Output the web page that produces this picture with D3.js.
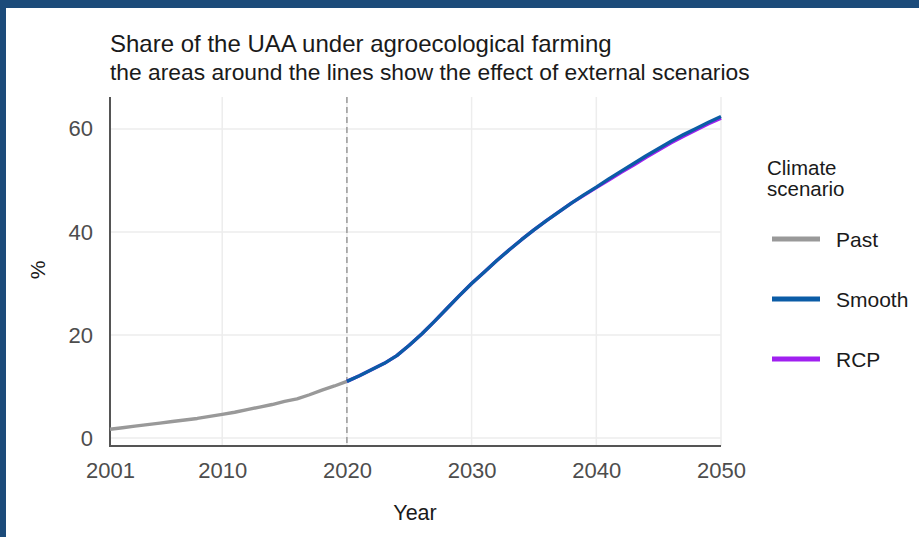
<!DOCTYPE html>
<html>
<head>
<meta charset="utf-8">
<script src="https://cdn.jsdelivr.net/npm/d3@7"></script>
<style>
  html, body { margin: 0; padding: 0; background: #fff; }
  svg { display: block; font-family: "Liberation Sans", Arial, sans-serif; }
</style>
</head>
<body>
<svg id="chart" width="919" height="537"></svg>
<script>
// Observed share (%) of utilised agricultural area, 2001-2020
const pastYears = d3.range(2001, 2021);
const pastValues = [1.7, 2.0, 2.3, 2.6, 2.9, 3.2, 3.5, 3.8, 4.2, 4.6,
                    5.0, 5.5, 6.0, 6.5, 7.1, 7.6, 8.4, 9.3, 10.1, 11.0];

// Projected share under the two climate scenarios, 2020-2050
const futureYears = d3.range(2020, 2051);
const smoothValues = [11.0, 12.1, 13.3, 14.5, 16.0, 18.0, 20.2, 22.6, 25.1, 27.6,
                      30.0, 32.2, 34.4, 36.5, 38.5, 40.4, 42.2, 43.9, 45.6, 47.2,
                      48.7, 50.3, 51.8, 53.3, 54.8, 56.2, 57.6, 58.9, 60.1, 61.3, 62.4];
const rcpValues =    [11.0, 12.1, 13.3, 14.5, 16.0, 18.0, 20.2, 22.6, 25.1, 27.6,
                      30.0, 32.2, 34.4, 36.5, 38.5, 40.4, 42.2, 43.9, 45.6, 47.1,
                      48.6, 50.1, 51.6, 53.0, 54.5, 55.9, 57.3, 58.6, 59.8, 61.0, 62.1];

const xTicks = [2001, 2010, 2020, 2030, 2040, 2050];
const xGrid = [2010, 2020, 2030, 2040, 2050];
const yTicks = [0, 20, 40, 60];
const splitYear = 2020;

const scenarios = ["Past", "Smooth", "RCP"];
const colors = { Past: "#999999", Smooth: "#0b5ca6", RCP: "#a020f0" };

const svg = d3.select("#chart");

// page frame
svg.append("rect").attr("x", 0).attr("y", 0).attr("width", 919).attr("height", 537).attr("fill", "#fff");
svg.append("rect").attr("x", 0).attr("y", 0).attr("width", 919).attr("height", 8).attr("fill", "#1c4b7a");
svg.append("rect").attr("x", 0).attr("y", 0).attr("width", 6).attr("height", 537).attr("fill", "#1c4b7a");

const plotL = 110, plotR = 721, plotT = 97, plotB = 446;

const x = d3.scaleLinear().domain([2001, 2050]).range([plotL, plotR]);
const y = d3.scaleLinear().domain([-1.55, 66.2]).range([plotB, plotT]);

// grid
const grid = svg.append("g");
grid.selectAll("line.h").data(yTicks).join("line")
  .attr("x1", plotL).attr("x2", plotR)
  .attr("y1", d => y(d)).attr("y2", d => y(d))
  .attr("stroke", "#ededed").attr("stroke-width", 1.5);
grid.selectAll("line.v").data(xGrid).join("line")
  .attr("x1", d => x(d)).attr("x2", d => x(d))
  .attr("y1", plotT).attr("y2", plotB)
  .attr("stroke", "#ededed").attr("stroke-width", 1.5);

// axes
const xAxis = svg.append("g").attr("transform", `translate(0,${plotB})`)
  .call(d3.axisBottom(x).tickValues(xTicks).tickFormat(d3.format("d")).tickSize(0).tickPadding(16));
const yAxis = svg.append("g").attr("transform", `translate(${plotL},0)`)
  .call(d3.axisLeft(y).tickValues(yTicks).tickSize(0).tickPadding(17));
[xAxis, yAxis].forEach(a => {
  a.select(".domain").attr("stroke", "#555").attr("stroke-width", 2);
  a.selectAll("text").attr("fill", "#4d4d4d").attr("font-size", 22)
    .attr("font-family", "Liberation Sans, Arial, sans-serif");
});
xAxis.select(".domain").attr("d", `M${plotL - 1},0H${plotR}`);
yAxis.select(".domain").attr("d", `M0,${plotT}V${plotB}`);

// dashed reference at the end of observations
svg.append("line")
  .attr("x1", x(splitYear)).attr("x2", x(splitYear))
  .attr("y1", plotT).attr("y2", plotB - 1)
  .attr("stroke", "#8c8c8c").attr("stroke-width", 1.3)
  .attr("stroke-dasharray", "6,4");

const line = d3.line().x(d => x(d[0])).y(d => y(d[1]));

const series = [
  { key: "Past", pts: pastYears.map((yr, i) => [yr, pastValues[i]]) },
  { key: "RCP", pts: futureYears.map((yr, i) => [yr, rcpValues[i]]) },
  { key: "Smooth", pts: futureYears.map((yr, i) => [yr, smoothValues[i]]) }
];
svg.append("g").selectAll("path").data(series).join("path")
  .attr("d", d => line(d.pts))
  .attr("fill", "none")
  .attr("stroke", d => colors[d.key])
  .attr("stroke-width", 3.4)
  .attr("stroke-linejoin", "round")
  .attr("stroke-linecap", "butt");

// titles
svg.append("text").attr("x", 110).attr("y", 52)
  .attr("font-size", 24).attr("fill", "#1a1a1a")
  .text("Share of the UAA under agroecological farming");
svg.append("text").attr("x", 110).attr("y", 80)
  .attr("font-size", 22.8).attr("fill", "#1a1a1a")
  .text("the areas around the lines show the effect of external scenarios");

// axis titles
svg.append("text").attr("x", 415).attr("y", 520)
  .attr("text-anchor", "middle").attr("font-size", 21.5).attr("fill", "#1a1a1a")
  .text("Year");
svg.append("text")
  .attr("transform", "translate(45,270) rotate(-90)")
  .attr("text-anchor", "middle").attr("font-size", 21).attr("fill", "#1a1a1a")
  .text("%");

// legend
const lg = svg.append("g");
lg.append("text").attr("x", 767).attr("y", 175).attr("font-size", 20.5).attr("fill", "#1a1a1a").text("Climate");
lg.append("text").attr("x", 767).attr("y", 196).attr("font-size", 20.5).attr("fill", "#1a1a1a").text("scenario");
const ly = d3.scalePoint().domain(scenarios).range([239, 359]);
const items = lg.selectAll("g.item").data(scenarios).join("g").attr("class", "item")
  .attr("transform", d => `translate(0,${ly(d)})`);
items.append("line").attr("x1", 772).attr("x2", 820).attr("y1", 0).attr("y2", 0)
  .attr("stroke", d => colors[d]).attr("stroke-width", 5);
items.append("text").attr("x", 836).attr("y", 8).attr("font-size", 21).attr("fill", "#1a1a1a").text(d => d);
</script>
</body>
</html>
